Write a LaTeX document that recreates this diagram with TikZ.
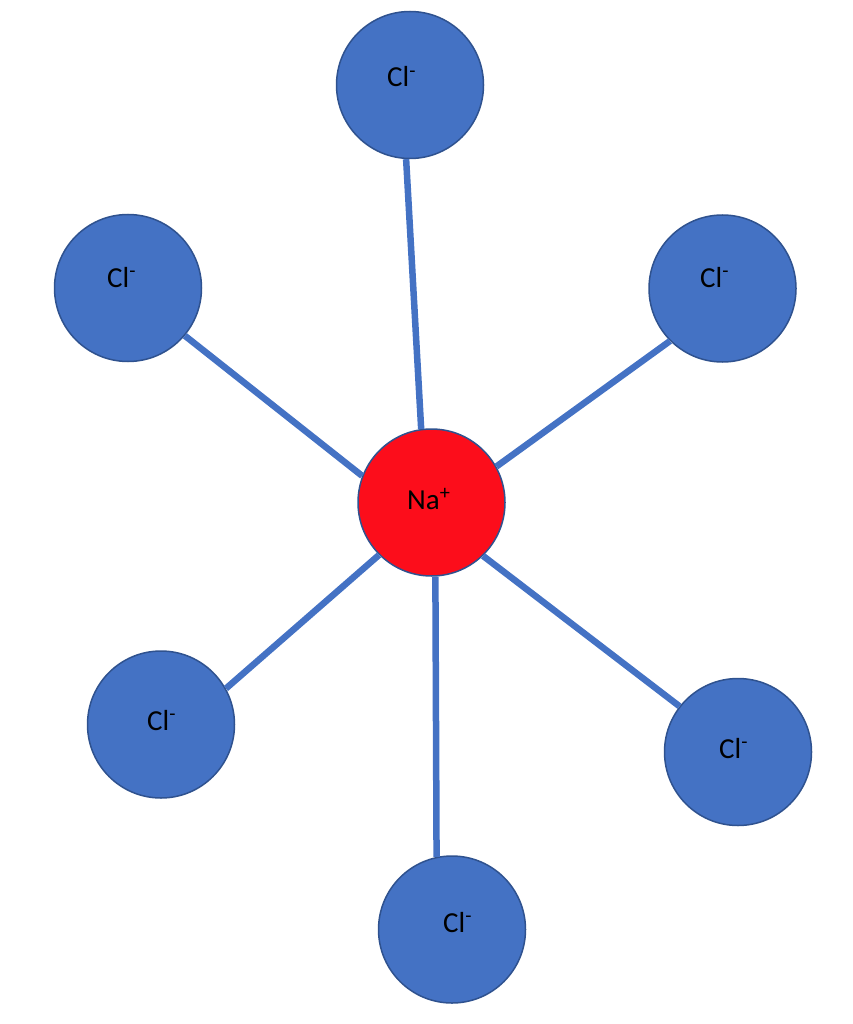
\documentclass[tikz,border=0pt]{standalone}
\usepackage{fontspec}
\setmainfont{Carlito}
\definecolor{clblue}{HTML}{4472C4}
\definecolor{edgeblue}{HTML}{2F528F}
\definecolor{nared}{HTML}{FC0D1B}
\begin{document}
\begin{tikzpicture}[x=1pt,y=-1pt,
  ion/.style={circle,minimum size=147pt,inner sep=0pt,draw=edgeblue,line width=1.5pt},
  clion/.style={ion,fill=clblue},
  naion/.style={ion,fill=nared},
  lbl/.style={anchor=base west,inner sep=0pt,font=\fontsize{29}{32}\selectfont},
  bond/.style={draw=clblue,line width=6.5pt,line cap=butt}]
\useasboundingbox (0,0) rectangle (852,1024);
\node[clion] (top) at (410,85) {};
\node[clion] (ul) at (128,288) {};
\node[clion] (ur) at (722.5,288.5) {};
\node[naion] (na) at (431.5,502.5) {};
\node[clion] (ll) at (161,724.5) {};
\node[clion] (lr) at (738,752) {};
\node[clion] (bot) at (452,929.5) {};
\draw[bond] (top.267.6) -- (na.98.2);
\draw[bond] (ul.320.4) -- (na.159);
\draw[bond] (ur.225.6) -- (na.29.2);
\draw[bond] (ll.29.7) -- (na.225.5);
\draw[bond] (lr.142) -- (na.314.5);
\draw[bond] (bot.102) -- (na.273.5);
\node[lbl] (ttop) at (387,87) {Cl\textsuperscript{-}};
\node[lbl] (tul) at (107,287) {Cl\textsuperscript{-}};
\node[lbl] (tur) at (700,287) {Cl\textsuperscript{-}};
\node[lbl] (tll) at (147,730) {Cl\textsuperscript{-}};
\node[lbl] (tlr) at (719,758) {Cl\textsuperscript{-}};
\node[lbl] (tbot) at (443,932) {Cl\textsuperscript{-}};
\node[lbl] (tna) at (407,509) {Na\textsuperscript{+}};
\end{tikzpicture}
\end{document}
